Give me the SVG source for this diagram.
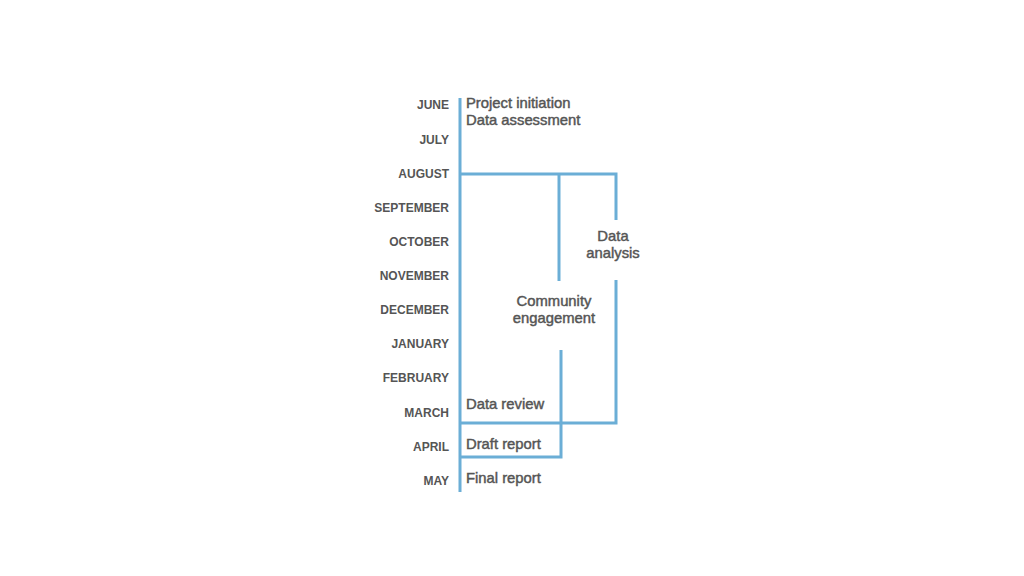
<svg xmlns="http://www.w3.org/2000/svg" width="1024" height="576" viewBox="0 0 1024 576">
<style>
.m{font-family:"Liberation Sans",Arial,sans-serif;font-size:12px;font-weight:bold;fill:#555;text-anchor:end}
.t{font-family:"Liberation Sans",Arial,sans-serif;font-size:14.8px;fill:#555;stroke:#555;stroke-width:0.45}
.c{text-anchor:middle}
.ln{stroke:#6baed6;stroke-width:3;fill:none}
</style>
<rect width="1024" height="576" fill="#fff"/>
<g id="connectors">
<line class="ln" x1="460" y1="98" x2="460" y2="492"/>
<polyline class="ln" points="460,174 616,174 616,220"/>
<line class="ln" x1="559" y1="174" x2="559" y2="281"/>
<polyline class="ln" points="616,280 616,423 460,423"/>
<polyline class="ln" points="561,350 561,457 460,457"/>
</g>
<g id="months">
<text class="m" x="449" y="109">JUNE</text>
<text class="m" x="449" y="144">JULY</text>
<text class="m" x="449" y="178">AUGUST</text>
<text class="m" x="449" y="212">SEPTEMBER</text>
<text class="m" x="449" y="246">OCTOBER</text>
<text class="m" x="449" y="280">NOVEMBER</text>
<text class="m" x="449" y="314">DECEMBER</text>
<text class="m" x="449" y="348">JANUARY</text>
<text class="m" x="449" y="382">FEBRUARY</text>
<text class="m" x="449" y="417">MARCH</text>
<text class="m" x="449" y="451">APRIL</text>
<text class="m" x="449" y="485">MAY</text>
</g>
<g id="initiation"><text class="t" x="466" y="108">Project initiation</text><text class="t" x="466" y="125">Data assessment</text></g>
<g id="analysis"><text class="t c" x="613" y="241">Data</text><text class="t c" x="613" y="258">analysis</text></g>
<g id="engagement"><text class="t c" x="554" y="306">Community</text><text class="t c" x="554" y="323">engagement</text></g>
<g id="review"><text class="t" x="466" y="409">Data review</text></g>
<g id="draft"><text class="t" x="466" y="449">Draft report</text></g>
<g id="final"><text class="t" x="466" y="483">Final report</text></g>
</svg>
